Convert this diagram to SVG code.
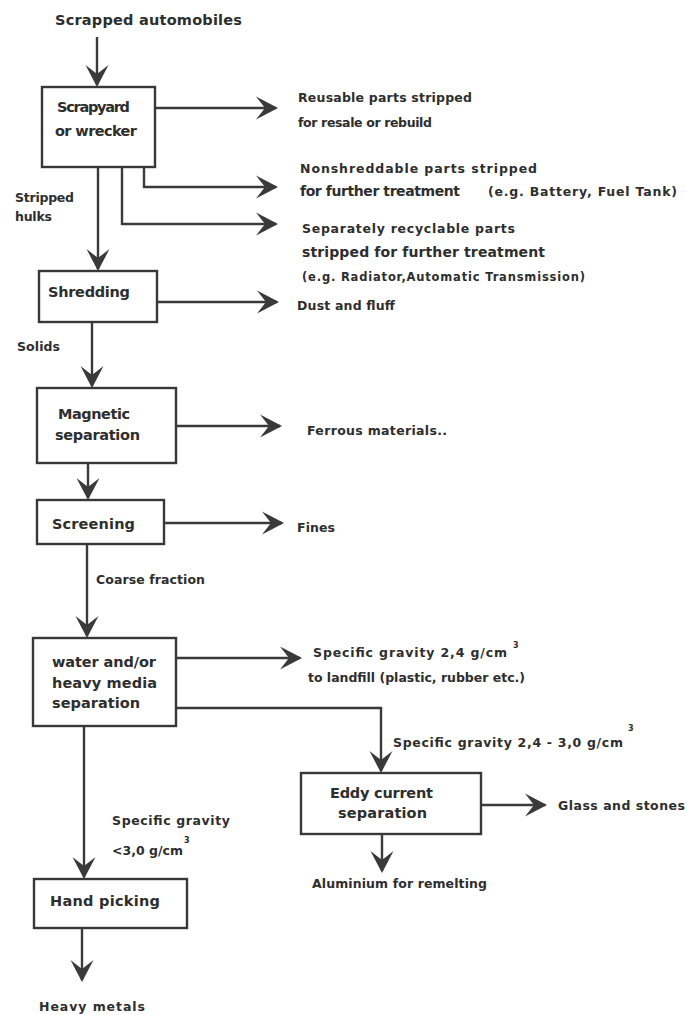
<svg xmlns="http://www.w3.org/2000/svg" width="687" height="1015" viewBox="0 0 687 1015">
  <style>
    text { font-family: "DejaVu Sans", "Liberation Sans", sans-serif; font-weight: bold; fill: #2e2e2e; }
    .box { fill: #ffffff; stroke: #383838; stroke-width: 2.4; }
    .lbl { font-size: 14.5px; }
    .side { font-size: 12.5px; }
    .big { font-size: 14px; }
    .small { font-size: 11.5px; }
    .sup { font-size: 8px; }
    .flow { fill: none; stroke: #3a3a3a; stroke-width: 2.4; marker-end: url(#head); }
  </style>
  <defs>
    <marker id="head" markerUnits="userSpaceOnUse" viewBox="-24 -13 26 26" refX="-2" refY="0" markerWidth="26" markerHeight="26" orient="auto">
      <path d="M0,0 L-22,-11.5 L-13,0 L-22,11.5 Z" fill="#3a3a3a"/>
    </marker>
  </defs>
  <rect width="687" height="1015" fill="#ffffff"/>

  <!-- connectors -->
  <g id="connectors">
    <path class="flow" d="M97,37 V85"/>
    <path class="flow" d="M155,108 H276"/>
    <path class="flow" d="M144,167 V187 H276"/>
    <path class="flow" d="M122,167 V224 H276"/>
    <path class="flow" d="M98,167 V269"/>
    <path class="flow" d="M157,302 H277"/>
    <path class="flow" d="M92,322 V386"/>
    <path class="flow" d="M176,426 H280"/>
    <path class="flow" d="M88,463 V498"/>
    <path class="flow" d="M164,523 H282"/>
    <path class="flow" d="M87,544 V636"/>
    <path class="flow" d="M176,658 H300"/>
    <path class="flow" d="M176,708 H381 V771"/>
    <path class="flow" d="M481,805 H545"/>
    <path class="flow" d="M382,834 V871"/>
    <path class="flow" d="M84,726 V877"/>
    <path class="flow" d="M82,928 V980"/>
  </g>

  <!-- process steps -->
  <g id="scrapyard">
    <rect class="box" x="42" y="87" width="113" height="80"/>
    <text class="lbl" x="57" y="112" textLength="73" lengthAdjust="spacing">Scrapyard</text>
    <text class="lbl" x="55" y="136" textLength="82" lengthAdjust="spacing">or wrecker</text>
  </g>
  <g id="shredding">
    <rect class="box" x="39" y="271" width="118" height="51"/>
    <text class="lbl" x="48" y="297" textLength="82" lengthAdjust="spacing">Shredding</text>
  </g>
  <g id="magnetic">
    <rect class="box" x="37" y="388" width="139" height="75"/>
    <text class="lbl" x="58" y="419" textLength="72" lengthAdjust="spacing">Magnetic</text>
    <text class="lbl" x="55" y="440" textLength="85" lengthAdjust="spacing">separation</text>
  </g>
  <g id="screening">
    <rect class="box" x="37" y="500" width="127" height="44"/>
    <text class="lbl" x="52" y="529" textLength="83" lengthAdjust="spacing">Screening</text>
  </g>
  <g id="media-separation">
    <rect class="box" x="33" y="638" width="143" height="88"/>
    <text class="lbl" x="52" y="667" textLength="104" lengthAdjust="spacing">water and/or</text>
    <text class="lbl" x="52" y="688" textLength="105" lengthAdjust="spacing">heavy media</text>
    <text class="lbl" x="52" y="708" textLength="88" lengthAdjust="spacing">separation</text>
  </g>
  <g id="eddy-current">
    <rect class="box" x="301" y="773" width="180" height="61"/>
    <text class="lbl" x="330" y="798" textLength="103" lengthAdjust="spacing">Eddy current</text>
    <text class="lbl" x="338" y="818" textLength="89" lengthAdjust="spacing">separation</text>
  </g>
  <g id="hand-picking">
    <rect class="box" x="34" y="879" width="153" height="49"/>
    <text class="lbl" x="50" y="906" textLength="110" lengthAdjust="spacing">Hand picking</text>
  </g>

  <!-- inputs and outputs -->
  <g id="input">
    <text class="lbl" x="55" y="25" textLength="187" lengthAdjust="spacing">Scrapped automobiles</text>
  </g>
  <g id="out-reusable">
    <text class="side" x="298" y="102" textLength="174" lengthAdjust="spacing">Reusable parts stripped</text>
    <text class="side" x="298" y="127" textLength="134" lengthAdjust="spacing">for resale or rebuild</text>
  </g>
  <g id="out-nonshreddable">
    <text class="side" x="300" y="173" textLength="237" lengthAdjust="spacing">Nonshreddable parts stripped</text>
    <text class="big" x="300" y="196" textLength="160" lengthAdjust="spacing">for further treatment</text>
    <text class="side" x="488" y="196" textLength="189" lengthAdjust="spacing">(e.g. Battery, Fuel Tank)</text>
  </g>
  <g id="out-recyclable">
    <text class="side" x="302" y="233" textLength="213" lengthAdjust="spacing">Separately recyclable parts</text>
    <text class="big" x="302" y="257" textLength="243" lengthAdjust="spacing">stripped for further treatment</text>
    <text class="small" x="302" y="281" textLength="283" lengthAdjust="spacing">(e.g. Radiator,Automatic Transmission)</text>
  </g>
  <g id="out-dust">
    <text class="side" x="297" y="310" textLength="98" lengthAdjust="spacing">Dust and fluff</text>
  </g>
  <g id="out-ferrous">
    <text class="side" x="307" y="435" textLength="140" lengthAdjust="spacing">Ferrous materials..</text>
  </g>
  <g id="out-fines">
    <text class="side" x="297" y="532" textLength="38" lengthAdjust="spacing">Fines</text>
  </g>
  <g id="out-landfill">
    <text class="side" x="313" y="657" textLength="194" lengthAdjust="spacing">Specific gravity 2,4 g/cm</text>
    <text class="sup" x="513" y="648">3</text>
    <text class="side" x="308" y="682" textLength="217" lengthAdjust="spacing">to landfill (plastic, rubber etc.)</text>
  </g>
  <g id="out-glass">
    <text class="side" x="558" y="810" textLength="127" lengthAdjust="spacing">Glass and stones</text>
  </g>
  <g id="out-aluminium">
    <text class="side" x="312" y="888" textLength="175" lengthAdjust="spacing">Aluminium for remelting</text>
  </g>
  <g id="out-heavy">
    <text class="side" x="39" y="1011" textLength="106" lengthAdjust="spacing">Heavy metals</text>
  </g>

  <!-- stream labels -->
  <g id="labels">
    <text class="side" x="15" y="202" textLength="59" lengthAdjust="spacing">Stripped</text>
    <text class="side" x="15" y="221" textLength="37" lengthAdjust="spacing">hulks</text>
    <text class="side" x="17" y="351" textLength="43" lengthAdjust="spacing">Solids</text>
    <text class="side" x="96" y="584" textLength="109" lengthAdjust="spacing">Coarse fraction</text>
    <text class="side" x="393" y="747" textLength="230" lengthAdjust="spacing">Specific gravity 2,4 - 3,0 g/cm</text>
    <text class="sup" x="628" y="731">3</text>
    <text class="side" x="112" y="825" textLength="118" lengthAdjust="spacing">Specific gravity</text>
    <text class="side" x="112" y="855" textLength="71" lengthAdjust="spacing">&lt;3,0 g/cm</text>
    <text class="sup" x="184" y="843">3</text>
  </g>
</svg>
